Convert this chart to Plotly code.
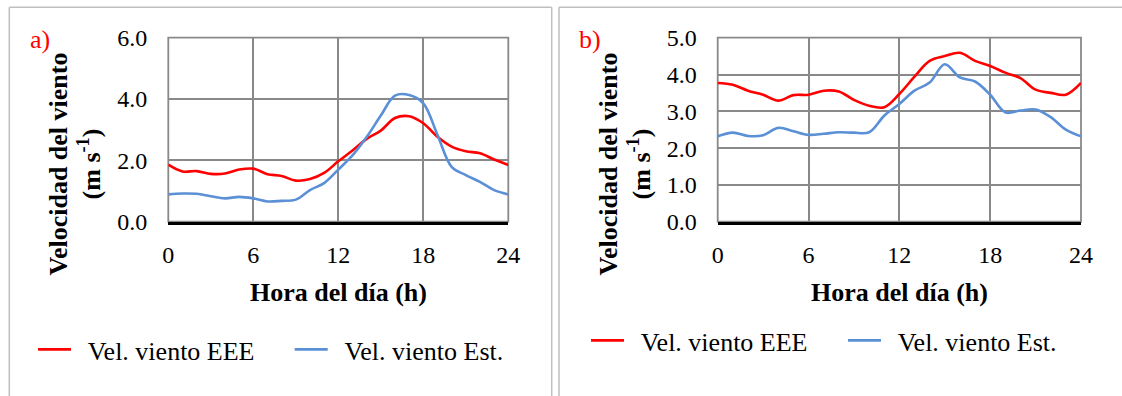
import plotly.graph_objects as go

# ---- data ----
hours = list(range(25))
eee_a = [1.86, 1.64, 1.65, 1.56, 1.57, 1.70, 1.73, 1.55, 1.49, 1.34, 1.39, 1.59, 1.97,
         2.32, 2.70, 2.97, 3.38, 3.44, 3.21, 2.77, 2.45, 2.30, 2.23, 2.03, 1.85]
est_a = [0.89, 0.92, 0.91, 0.83, 0.76, 0.81, 0.76, 0.66, 0.68, 0.72, 1.03, 1.26, 1.70,
         2.16, 2.76, 3.46, 4.11, 4.13, 3.86, 2.83, 1.79, 1.52, 1.30, 1.03, 0.89]
eee_b = [3.77, 3.72, 3.56, 3.45, 3.29, 3.44, 3.45, 3.56, 3.54, 3.31, 3.15, 3.11, 3.47,
         3.94, 4.37, 4.50, 4.59, 4.37, 4.23, 4.05, 3.90, 3.59, 3.50, 3.45, 3.77]
est_b = [2.32, 2.42, 2.33, 2.35, 2.55, 2.46, 2.36, 2.39, 2.43, 2.42, 2.43, 2.88, 3.20,
         3.56, 3.78, 4.28, 3.92, 3.81, 3.45, 2.97, 3.02, 3.05, 2.84, 2.50, 2.32]
x_ticks = [0, 6, 12, 18, 24]
name_eee = "Vel. viento EEE"
name_est = "Vel. viento Est."
panel_labels = ["a)", "b)"]
x_title = "Hora del día (h)"
y_title = "<b>Velocidad del viento<br>(m s<sup>-1</sup>)</b>"

W, H = 1122, 396
RED = "#FF0000"
BLUE = "#5B8FD6"
GRID = "#898989"
FONT = "Liberation Serif"


def px(x):
    return x / W


def py(y):
    return 1 - y / H


fig = go.Figure()
pad = "\u00a0\u2009"
for (eee, est, xa, ya, leg) in [(eee_a, est_a, "x", "y", "legend"),
                                (eee_b, est_b, "x2", "y2", "legend2")]:
    fig.add_trace(go.Scatter(x=hours, y=eee, mode="lines", name=pad + name_eee,
                             line=dict(color=RED, width=2.6, shape="spline", smoothing=1.0),
                             xaxis=xa, yaxis=ya, legend=leg))
    fig.add_trace(go.Scatter(x=hours, y=est, mode="lines", name=pad + name_est,
                             line=dict(color=BLUE, width=2.6, shape="spline", smoothing=1.0),
                             xaxis=xa, yaxis=ya, legend=leg))

top_px, bot_px = 37.7, 221.7
ydom = [py(bot_px), py(top_px)]
xdom_a = [px(168.3), px(508.3)]
xdom_b = [px(717.7), px(1081.0)]

xcommon = dict(range=[0, 24], tickvals=x_ticks, showgrid=True, gridcolor=GRID, gridwidth=1.8,
               zeroline=False, showline=True, linecolor="black", linewidth=2.6, mirror=False,
               ticks="", ticklabelstandoff=10, automargin=False,
               tickfont=dict(family=FONT, size=24, color="black"), fixedrange=True)
ycommon = dict(showgrid=True, gridcolor=GRID, gridwidth=1.8, zeroline=False, showline=False,
               ticks="", ticklabelstandoff=20, tickformat=".1f", automargin=False,
               tickfont=dict(family=FONT, size=24, color="black"), fixedrange=True)

fig.update_layout(
    width=W, height=H, margin=dict(l=0, r=0, t=0, b=0, autoexpand=False),
    paper_bgcolor="white", plot_bgcolor="white",
    font=dict(family=FONT, color="black"),
    xaxis=dict(domain=xdom_a, anchor="y", **xcommon),
    yaxis=dict(domain=ydom, anchor="x", range=[0, 6], dtick=2, **ycommon),
    xaxis2=dict(domain=xdom_b, anchor="y2", **xcommon),
    yaxis2=dict(domain=ydom, anchor="x2", range=[0, 5], dtick=1, **ycommon),
    legend=dict(orientation="h", x=px(33), xanchor="left", y=py(326), yanchor="top",
                font=dict(family=FONT, size=26, color="black"), itemwidth=33,
                entrywidth=208.7, bgcolor="rgba(0,0,0,0)", borderwidth=0),
    legend2=dict(orientation="h", x=px(586), xanchor="left", y=py(317), yanchor="top",
                 font=dict(family=FONT, size=26, color="black"), itemwidth=33,
                 entrywidth=209, bgcolor="rgba(0,0,0,0)", borderwidth=0),
)

shapes = []
# plot-area frames (grey)
for xr, yr in [("x domain", "y domain"), ("x2 domain", "y2 domain")]:
    shapes.append(dict(type="rect", xref=xr, yref=yr, x0=0, x1=1, y0=0, y1=1,
                       line=dict(color=GRID, width=1.8), layer="below"))
# outer panel borders
BORDER = "#BFBFBF"
shapes += [
    dict(type="line", xref="paper", yref="paper", x0=px(9.3), x1=px(551.7), y0=py(7.3), y1=py(7.3),
         line=dict(color=BORDER, width=1.5)),
    dict(type="line", xref="paper", yref="paper", x0=px(9.3), x1=px(9.3), y0=py(7.3), y1=0,
         line=dict(color=BORDER, width=1.5)),
    dict(type="line", xref="paper", yref="paper", x0=px(551.7), x1=px(551.7), y0=py(7.3), y1=0,
         line=dict(color=BORDER, width=1.5)),
    dict(type="line", xref="paper", yref="paper", x0=px(559), x1=1, y0=py(7.3), y1=py(7.3),
         line=dict(color=BORDER, width=1.5)),
    dict(type="line", xref="paper", yref="paper", x0=px(559), x1=px(559), y0=py(7.3), y1=0,
         line=dict(color=BORDER, width=1.5)),
]
fig.update_layout(shapes=shapes)

ann = []
for lab, lx, xt, yt in [(panel_labels[0], 40, 338.3, 74.5), (panel_labels[1], 589.5, 899.3, 624.5)]:
    ann.append(dict(text=lab, x=px(lx), y=py(39.5), xref="paper", yref="paper",
                    xanchor="center", yanchor="middle", showarrow=False,
                    font=dict(family=FONT, size=26, color=RED)))
    ann.append(dict(text="<b>" + x_title + "</b>", x=px(xt), y=py(292), xref="paper", yref="paper",
                    xanchor="center", yanchor="middle", showarrow=False,
                    font=dict(family=FONT, size=26, color="black")))
    ann.append(dict(text=y_title, x=px(yt), y=py(164), xref="paper", yref="paper",
                    xanchor="center", yanchor="middle", showarrow=False, textangle=-90,
                    font=dict(family=FONT, size=26, color="black")))
fig.update_layout(annotations=ann)

post = (
    "document.documentElement.style.overflow='hidden';"
    "document.body.style.margin='0';document.body.style.overflow='hidden';"
    "var gd=document.getElementById('{plot_id}');"
    "gd.style.position='absolute';gd.style.left='0px';gd.style.top='0px';"
)
fig.write_html("out.html", config={"displayModeBar": False}, post_script=post)
